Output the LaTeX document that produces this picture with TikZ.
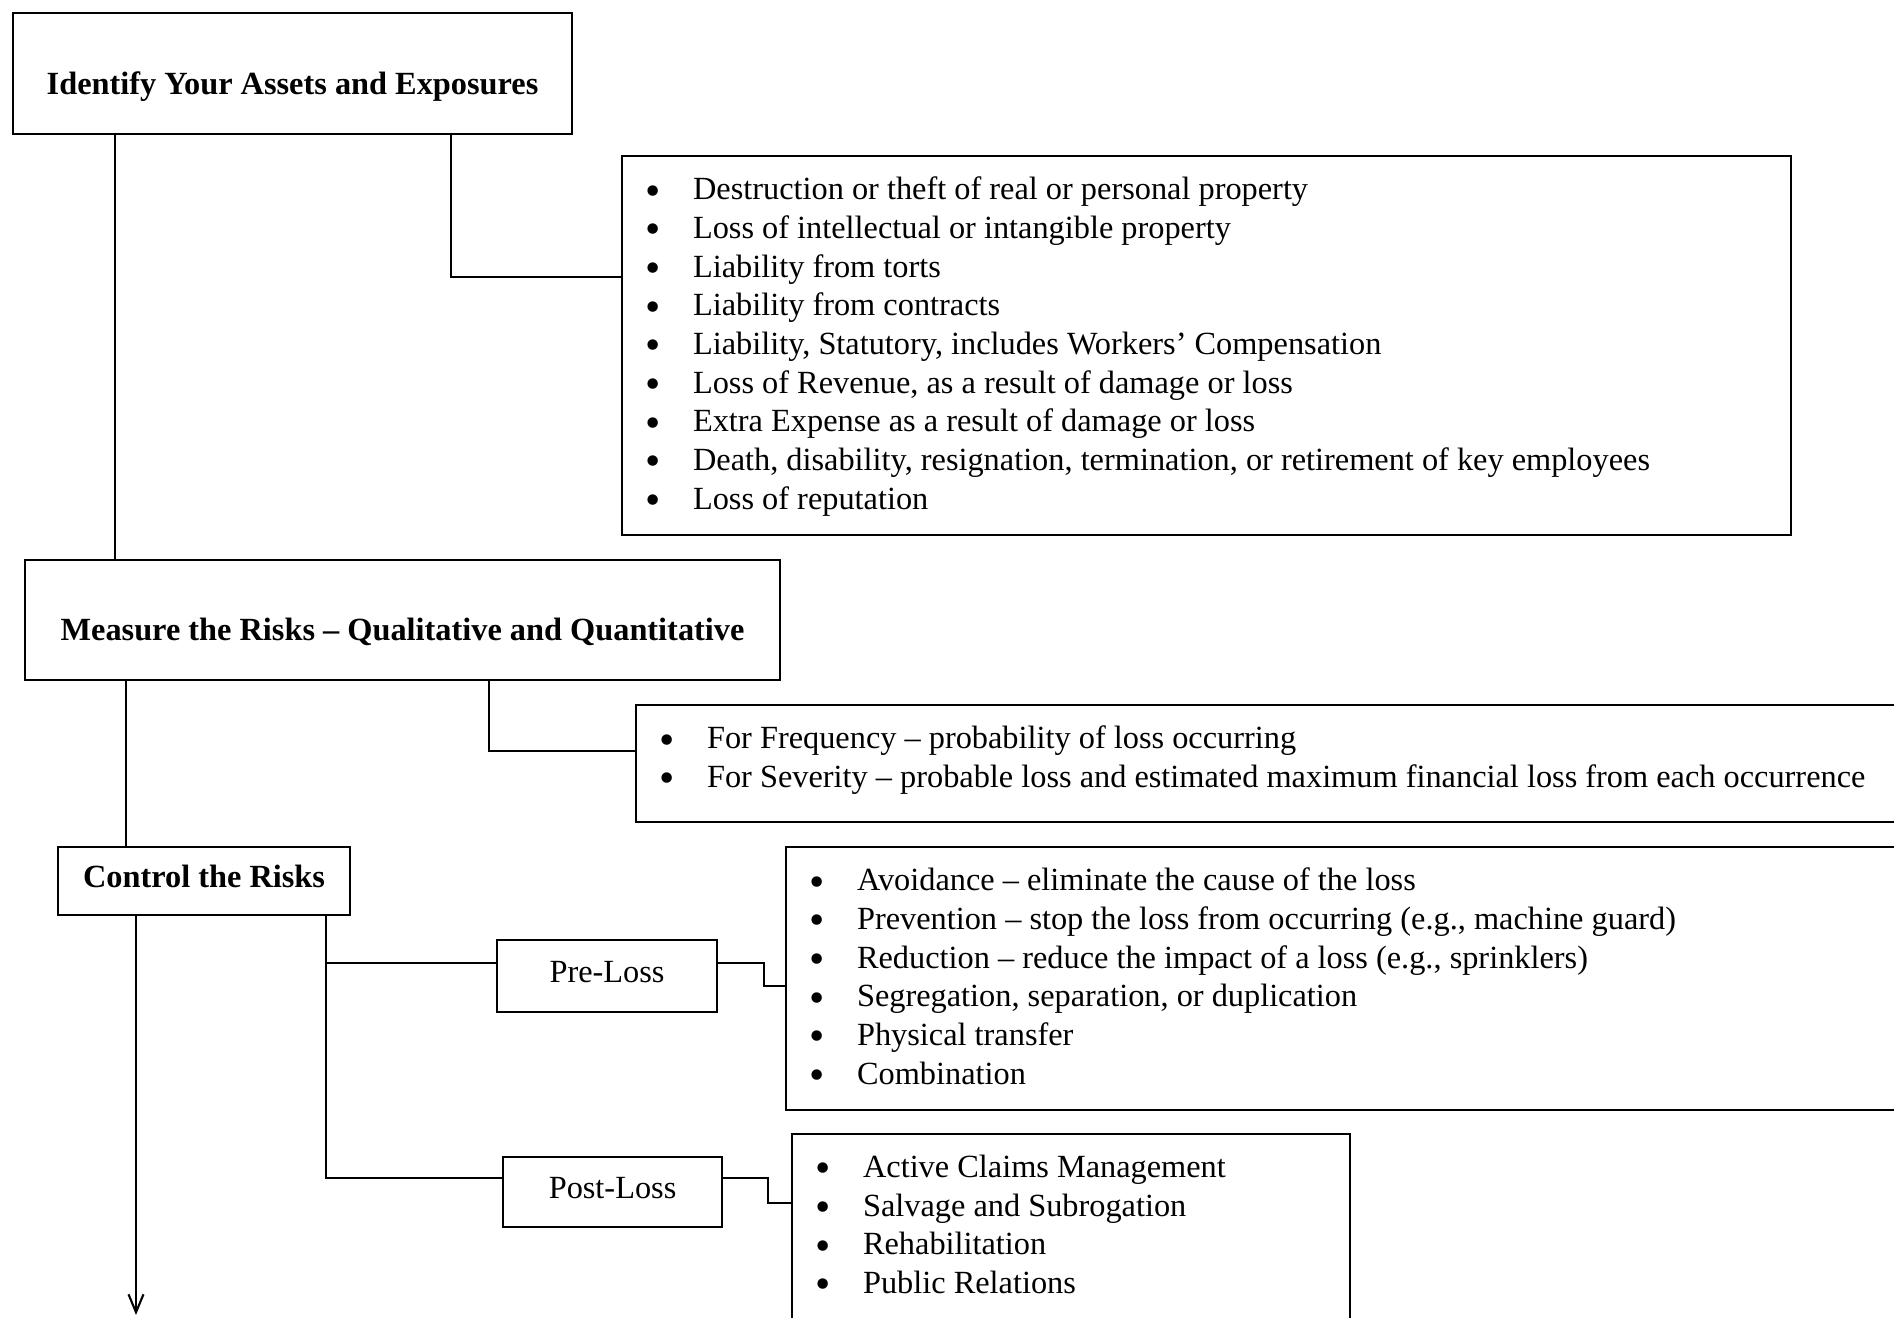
\documentclass[tikz,border=0pt]{standalone}
\usepackage{fontspec}
\setmainfont{Liberation Serif}
\usetikzlibrary{arrows.meta}

\tikzset{
  head/.style={draw, line width=0.6pt, inner sep=0pt, anchor=north west, font=\fontsize{9.2pt}{11pt}\selectfont\bfseries},
  sub/.style={draw, line width=0.6pt, inner sep=0pt, anchor=north west, text height=2.2mm, text depth=0.9mm, font=\fontsize{9.2pt}{11pt}\selectfont},
  listbox/.style={draw, line width=0.6pt, inner sep=0pt, anchor=north west},
  link/.style={line width=0.6pt},
}
\newcommand{\listtop}{\fontsize{9.2pt}{11pt}\selectfont\leftskip=2.35mm\vspace*{2.1mm}}
\newcommand{\bul}[1]{\makebox[4.75mm][l]{\raisebox{-1.5pt}{\scalebox{1.35}{\textbullet}}}#1\par}

\begin{document}
\begin{tikzpicture}[x=1mm, y=-1mm]

\path[use as bounding box, fill=white] (0,0) rectangle (189.4,131.8);
\clip (0,0) rectangle (189.4,131.8);

% headings
\node[head, minimum width=55.9mm, minimum height=12.1mm, text height=4.5mm, text depth=0.4mm] (id) at (1.2,1.2) {Identify Your Assets and Exposures};
\node[head, minimum width=75.5mm, minimum height=12.0mm, text height=4.5mm, text depth=0.4mm] (meas) at (2.4,55.9) {Measure the Risks – Qualitative and Quantitative};
\node[head, minimum width=29.2mm, minimum height=6.8mm, text height=2.2mm, text depth=0.9mm] (ctrl) at (5.7,84.6) {Control the Risks};

\node[sub, minimum width=22.0mm, minimum height=7.2mm] (pre) at (49.6,93.9) {Pre-Loss};
\node[sub, minimum width=21.9mm, minimum height=7.0mm] (post) at (50.2,115.6) {Post-Loss};

% lists
\node[listbox] (expo) at (62.1,15.5) {\begin{minipage}[t][37.9mm][t]{116.9mm}\listtop
\bul{Destruction or theft of real or personal property}
\bul{Loss of intellectual or intangible property}
\bul{Liability from torts}
\bul{Liability from contracts}
\bul{Liability, Statutory, includes Workers’ Compensation}
\bul{Loss of Revenue, as a result of damage or loss}
\bul{Extra Expense as a result of damage or loss}
\bul{Death, disability, resignation, termination, or retirement of key employees}
\bul{Loss of reputation}
\end{minipage}};

\node[listbox] (freq) at (63.5,70.4) {\begin{minipage}[t][11.7mm][t]{128mm}\listtop
\bul{For Frequency – probability of loss occurring}
\bul{For Severity – probable loss and estimated maximum financial loss from each occurrence}
\end{minipage}};

\node[listbox] (prelist) at (78.5,84.6) {\begin{minipage}[t][26.3mm][t]{112mm}\listtop
\bul{Avoidance – eliminate the cause of the loss}
\bul{Prevention – stop the loss from occurring (e.g., machine guard)}
\bul{Reduction – reduce the impact of a loss (e.g., sprinklers)}
\bul{Segregation, separation, or duplication}
\bul{Physical transfer}
\bul{Combination}
\end{minipage}};

\node[listbox] (postlist) at (79.1,113.3) {\begin{minipage}[t][21.7mm][t]{55.8mm}\listtop
\bul{Active Claims Management}
\bul{Salvage and Subrogation}
\bul{Rehabilitation}
\bul{Public Relations}
\end{minipage}};

% turning points
\coordinate (v1) at (11.5,0);
\coordinate (v2) at (12.6,0);
\coordinate (end) at (13.6,131.5);
\coordinate (j1) at (45.1,27.7);
\coordinate (j2) at (48.9,75.1);
\coordinate (j3) at (32.6,117.8);
\coordinate (j4) at (32.6,96.3);
\coordinate (j5) at (76.4,98.6);
\coordinate (j6) at (76.8,120.3);

% connectors
\draw[link] (id.south -| v1) -- (meas.north -| v1);
\draw[link] (id.south -| j1) |- (expo.west |- j1);
\draw[link] (meas.south -| j2) |- (freq.west |- j2);
\draw[link] (meas.south -| v2) -- (ctrl.north -| v2);
\draw[link, -{Straight Barb[length=1.8mm, width=1.5mm]}] (ctrl.south -| end) -- (end);
\draw[link] (ctrl.south -| j3) |- (post.west |- j3);
\draw[link] (j4) -- (pre.west |- j4);
\draw[link] (pre.east |- j4) -| (j5) -- (prelist.west |- j5);
\draw[link] (post.east |- j3) -| (j6) -- (postlist.west |- j6);
\end{tikzpicture}
\end{document}
